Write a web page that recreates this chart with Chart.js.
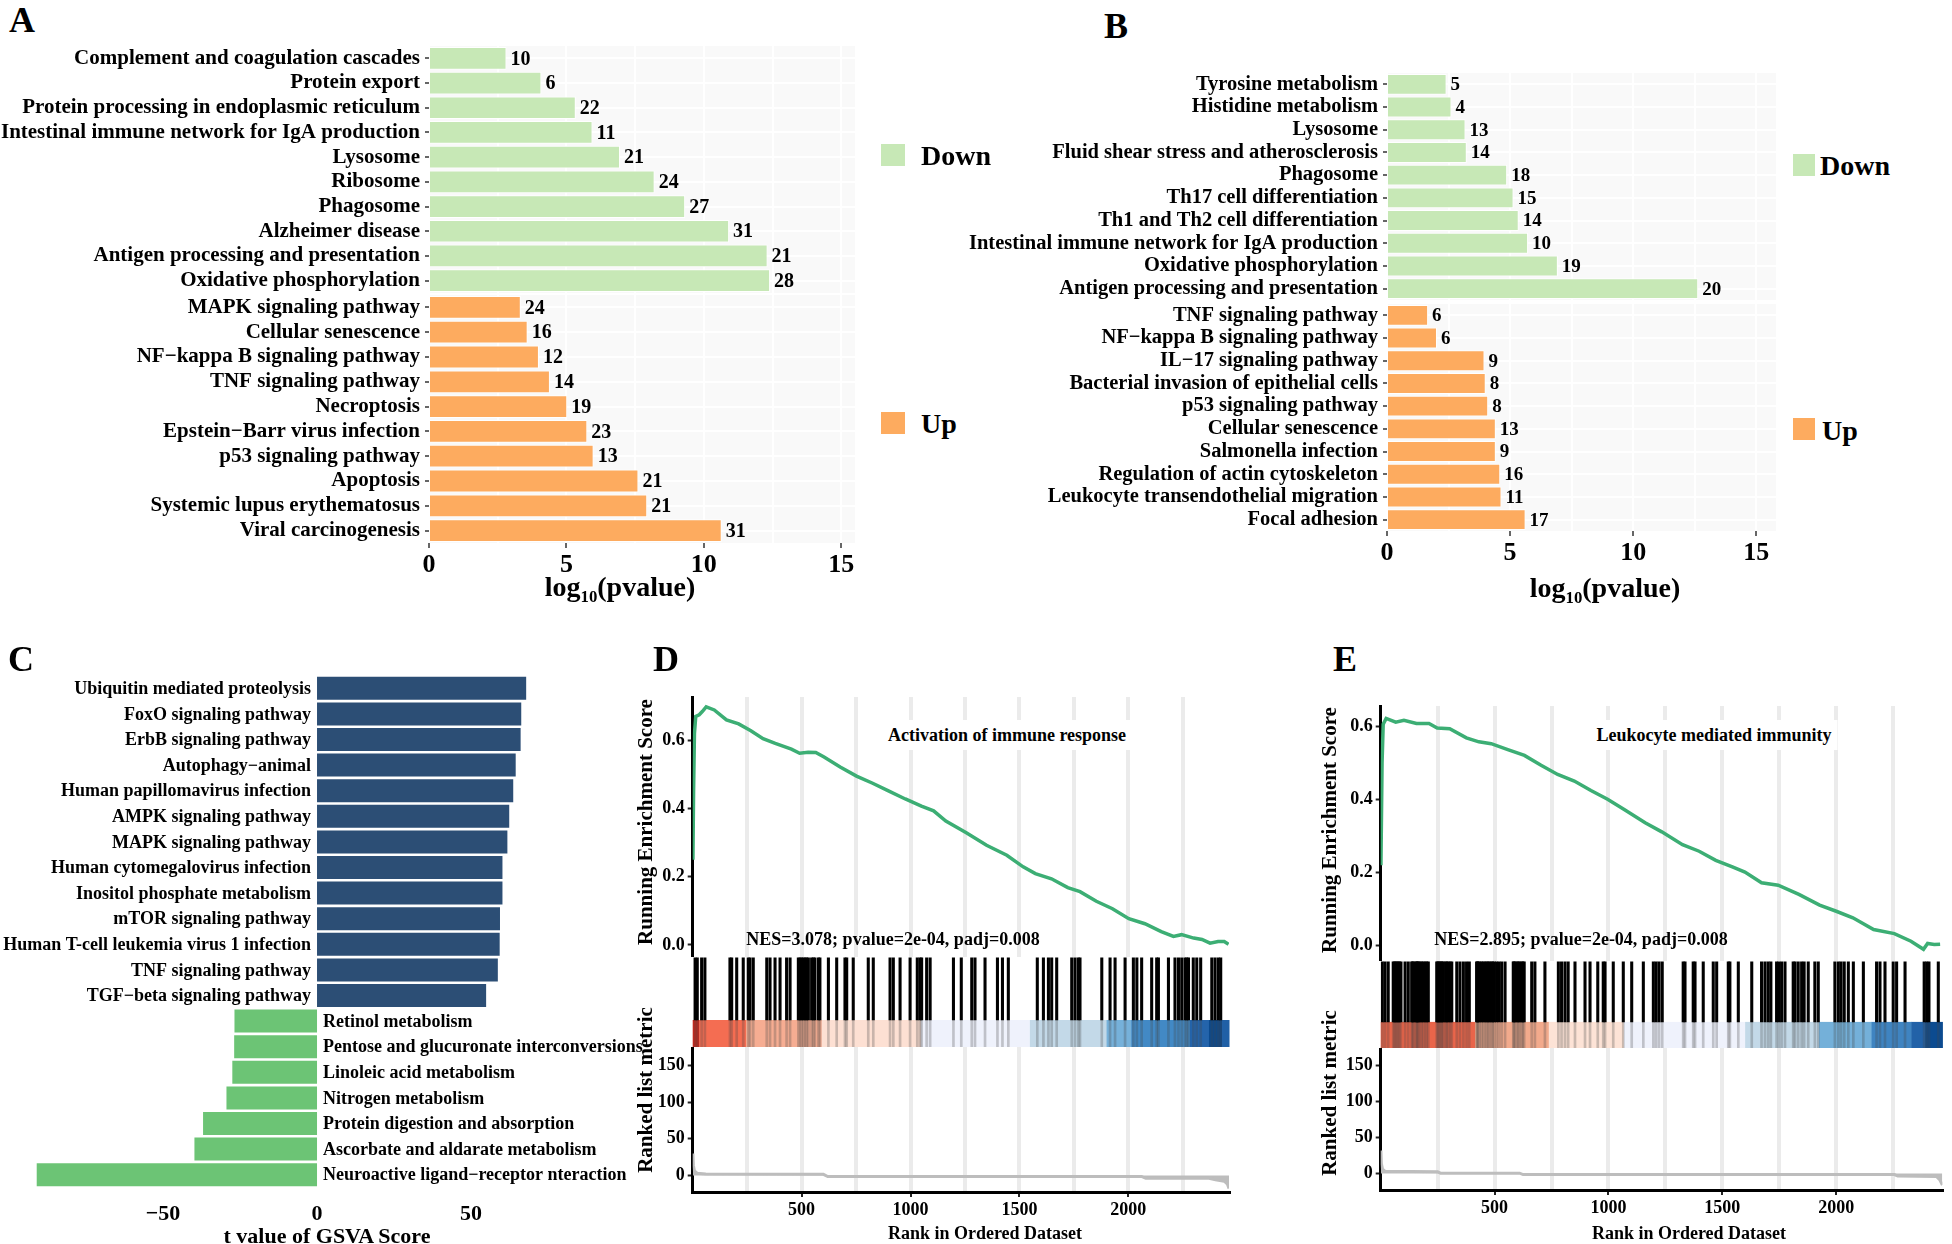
<!DOCTYPE html>
<html>
<head>
<meta charset="utf-8">
<script src="https://cdn.jsdelivr.net/npm/chart.js@4.4.1/dist/chart.umd.min.js"></script>
<style>
  html, body { margin: 0; padding: 0; background: #fff; overflow: hidden; }
  body { width: 1952px; height: 1244px; position: relative; font-family: 'Liberation Serif', 'Times New Roman', serif; font-weight: bold; color: #000; }
  .box { position: absolute; }
  .t { position: absolute; transform: translate(-50%, -50%); white-space: nowrap; line-height: 1; }
  .tl { position: absolute; transform: translateY(-50%); white-space: nowrap; line-height: 1; }
  .tr { position: absolute; transform: translate(-50%, -50%) rotate(-90deg); white-space: nowrap; line-height: 1; }
  .sq { position: absolute; }
  sub { font-size: 60%; vertical-align: -0.35em; }
</style>
</head>
<body>
<!-- panel A -->
<div class="box" style="left:0;top:46px;width:870px;height:247px"><canvas id="a-down"></canvas></div>
<div class="box" style="left:0;top:295px;width:870px;height:325px"><canvas id="a-up"></canvas></div>
<!-- panel B -->
<div class="box" style="left:960px;top:73px;width:831px;height:227px"><canvas id="b-down"></canvas></div>
<div class="box" style="left:960px;top:304px;width:831px;height:316px"><canvas id="b-up"></canvas></div>
<!-- panel C -->
<div class="box" style="left:0;top:630px;width:660px;height:630px"><canvas id="c-chart"></canvas></div>
<!-- panel D -->
<div class="box" style="left:620px;top:690px;width:620px;height:267px"><canvas id="d-es"></canvas></div>
<div class="box" style="left:620px;top:957px;width:620px;height:90px"><canvas id="d-hits"></canvas></div>
<div class="box" style="left:620px;top:1047px;width:620px;height:203px"><canvas id="d-metric"></canvas></div>
<!-- panel E -->
<div class="box" style="left:1300px;top:700px;width:652px;height:261px"><canvas id="e-es"></canvas></div>
<div class="box" style="left:1300px;top:961px;width:652px;height:87px"><canvas id="e-hits"></canvas></div>
<div class="box" style="left:1300px;top:1048px;width:652px;height:202px"><canvas id="e-metric"></canvas></div>

<!-- letters -->
<div class="t" style="left:22px;top:20px;font-size:36px">A</div>
<div class="t" style="left:1116px;top:26px;font-size:36px">B</div>
<div class="t" style="left:21px;top:659px;font-size:36px">C</div>
<div class="t" style="left:666px;top:659px;font-size:36px">D</div>
<div class="t" style="left:1345px;top:659px;font-size:36px">E</div>

<!-- legends -->
<div class="sq" style="left:881px;top:144px;width:24px;height:22px;background:#c7e8b6"></div>
<div class="tl" style="left:921px;top:156px;font-size:28px">Down</div>
<div class="sq" style="left:881px;top:412px;width:24px;height:22px;background:#fdab5f"></div>
<div class="tl" style="left:921px;top:424px;font-size:28px">Up</div>
<div class="sq" style="left:1793px;top:154px;width:22px;height:22px;background:#c7e8b6"></div>
<div class="tl" style="left:1820px;top:166px;font-size:28px">Down</div>
<div class="sq" style="left:1793px;top:418px;width:22px;height:22px;background:#fdab5f"></div>
<div class="tl" style="left:1822px;top:431px;font-size:28px">Up</div>

<!-- axis titles -->
<div class="t" style="left:620px;top:589px;font-size:28px">log<sub>10</sub>(pvalue)</div>
<div class="t" style="left:1605px;top:590px;font-size:28px">log<sub>10</sub>(pvalue)</div>
<div class="t" style="left:327px;top:1236px;font-size:22px">t value of GSVA Score</div>
<div class="tr" style="left:645px;top:822px;font-size:21px">Running Enrichment Score</div>
<div class="tr" style="left:645px;top:1090px;font-size:21px">Ranked list metric</div>
<div class="t" style="left:985px;top:1233px;font-size:18px">Rank in Ordered Dataset</div>
<div class="tr" style="left:1329px;top:830px;font-size:21px">Running Enrichment Score</div>
<div class="tr" style="left:1329px;top:1093px;font-size:21px">Ranked list metric</div>
<div class="t" style="left:1689px;top:1233px;font-size:18px">Rank in Ordered Dataset</div>

<!-- GSEA annotations -->
<div class="t" style="left:1007px;top:735px;font-size:18px;background:#fff;padding:6px 6px">Activation of immune response</div>
<div class="t" style="left:893px;top:939px;font-size:18px">NES=3.078; pvalue=2e-04, padj=0.008</div>
<div class="t" style="left:1714px;top:735px;font-size:18px;background:#fff;padding:6px 6px">Leukocyte mediated immunity</div>
<div class="t" style="left:1581px;top:939px;font-size:18px">NES=2.895; pvalue=2e-04, padj=0.008</div>

<script>
// ---- A: KEGG enrichment (log10 p), Down / Up
const aDownLabels = ['Complement and coagulation cascades', 'Protein export', 'Protein processing in endoplasmic reticulum', 'Intestinal immune network for IgA production', 'Lysosome', 'Ribosome', 'Phagosome', 'Alzheimer disease', 'Antigen processing and presentation', 'Oxidative phosphorylation'];
const aDownValues = [2.82, 4.09, 5.34, 5.95, 6.95, 8.21, 9.32, 10.92, 12.32, 12.41];
const aDownCounts = [10, 6, 22, 11, 21, 24, 27, 31, 21, 28];
const aUpLabels = ['MAPK signaling pathway', 'Cellular senescence', 'NF−kappa B signaling pathway', 'TNF signaling pathway', 'Necroptosis', 'Epstein−Barr virus infection', 'p53 signaling pathway', 'Apoptosis', 'Systemic lupus erythematosus', 'Viral carcinogenesis'];
const aUpValues = [3.34, 3.59, 4.00, 4.40, 5.03, 5.76, 5.99, 7.62, 7.94, 10.65];
const aUpCounts = [24, 16, 12, 14, 19, 23, 13, 21, 21, 31];

// ---- B
const bDownLabels = ['Tyrosine metabolism', 'Histidine metabolism', 'Lysosome', 'Fluid shear stress and atherosclerosis', 'Phagosome', 'Th17 cell differentiation', 'Th1 and Th2 cell differentiation', 'Intestinal immune network for IgA production', 'Oxidative phosphorylation', 'Antigen processing and presentation'];
const bDownValues = [2.42, 2.62, 3.19, 3.24, 4.88, 5.14, 5.35, 5.73, 6.94, 12.64];
const bDownCounts = [5, 4, 13, 14, 18, 15, 14, 10, 19, 20];
const bUpLabels = ['TNF signaling pathway', 'NF−kappa B signaling pathway', 'IL−17 signaling pathway', 'Bacterial invasion of epithelial cells', 'p53 signaling pathway', 'Cellular senescence', 'Salmonella infection', 'Regulation of actin cytoskeleton', 'Leukocyte transendothelial migration', 'Focal adhesion'];
const bUpValues = [1.67, 2.03, 3.96, 4.01, 4.11, 4.42, 4.42, 4.60, 4.65, 5.63];
const bUpCounts = [6, 6, 9, 8, 8, 13, 9, 16, 11, 17];

// ---- C: GSVA t values
const gsvaLabels = ['Ubiquitin mediated proteolysis', 'FoxO signaling pathway', 'ErbB signaling pathway', 'Autophagy−animal', 'Human papillomavirus infection', 'AMPK signaling pathway', 'MAPK signaling pathway', 'Human cytomegalovirus infection', 'Inositol phosphate metabolism', 'mTOR signaling pathway', 'Human T-cell leukemia virus 1 infection', 'TNF signaling pathway', 'TGF−beta signaling pathway', 'Retinol metabolism', 'Pentose and glucuronate interconversions', 'Linoleic acid metabolism', 'Nitrogen metabolism', 'Protein digestion and absorption', 'Ascorbate and aldarate metabolism', 'Neuroactive ligand−receptor nteraction'];
const gsvaValues = [67.9, 66.3, 66.1, 64.5, 63.7, 62.4, 61.8, 60.2, 60.2, 59.4, 59.3, 58.7, 54.9, -26.8, -26.9, -27.5, -29.4, -37.0, -39.8, -91.0];

// ---- D: GSEA activation of immune response
const esDRank = [1, 4, 8, 14, 30, 45, 62, 99, 155, 211, 267, 323, 379, 453, 491, 530, 565, 603, 677, 752, 826, 901, 976, 1050, 1106, 1162, 1256, 1349, 1442, 1517, 1573, 1647, 1722, 1778, 1853, 1927, 2002, 2076, 2151, 2207, 2244, 2300, 2338, 2375, 2412, 2440, 2460];
const esDScore = [0.25, 0.45, 0.62, 0.67, 0.675, 0.685, 0.698, 0.689, 0.660, 0.648, 0.628, 0.605, 0.591, 0.574, 0.562, 0.565, 0.564, 0.551, 0.522, 0.495, 0.474, 0.451, 0.428, 0.407, 0.393, 0.363, 0.329, 0.292, 0.263, 0.229, 0.209, 0.194, 0.168, 0.156, 0.128, 0.106, 0.077, 0.062, 0.039, 0.025, 0.030, 0.020, 0.016, 0.005, 0.010, 0.010, 0.002];
const hitsD = [11, 21, 41, 56, 171, 179, 202, 232, 255, 263, 278, 340, 355, 378, 401, 431, 447, 485, 493, 500, 508, 516, 523, 531, 546, 554, 561, 577, 584, 623, 661, 699, 707, 737, 806, 829, 906, 921, 952, 998, 1031, 1044, 1051, 1074, 1090, 1197, 1233, 1281, 1296, 1342, 1399, 1422, 1449, 1582, 1610, 1633, 1648, 1671, 1740, 1755, 1770, 1778, 1878, 1916, 1939, 1985, 2023, 2039, 2061, 2107, 2130, 2138, 2184, 2214, 2230, 2245, 2260, 2268, 2276, 2298, 2314, 2332, 2383, 2398, 2413, 2424];
const bandDStart = [0, 30, 245, 592, 1047, 1548, 1900, 2013, 2283, 2370, 2430];
const bandDColor = ['#c8281d', '#f46d52', '#f6ad92', '#fde0d3', '#eff2fc', '#c3d9e8', '#76b1da', '#4289c5', '#2464ab', '#0b4a8f', '#2060a6'];
const metricDRank = [1, 3, 8, 20, 60, 600, 620, 2060, 2080, 2370, 2400, 2440, 2455, 2462];
const metricDValue = [30, 14, 6, 3, 2, 1.5, -1.5, -1.5, -4, -4, -6, -8, -12, -18];
const rankMaxD = 2462;

// ---- E: GSEA leukocyte mediated immunity
const esERank = [1, 6, 11, 24, 66, 102, 157, 212, 248, 303, 376, 431, 485, 558, 631, 704, 777, 850, 923, 996, 1069, 1161, 1234, 1325, 1398, 1471, 1544, 1599, 1672, 1745, 1836, 1927, 2000, 2073, 2164, 2255, 2328, 2383, 2401, 2430, 2456];
const esEScore = [0.22, 0.50, 0.605, 0.621, 0.611, 0.616, 0.607, 0.607, 0.595, 0.593, 0.568, 0.557, 0.552, 0.536, 0.520, 0.493, 0.468, 0.450, 0.424, 0.400, 0.372, 0.336, 0.311, 0.276, 0.258, 0.233, 0.215, 0.201, 0.172, 0.165, 0.140, 0.111, 0.094, 0.076, 0.044, 0.033, 0.012, -0.010, 0.006, 0.003, 0.004];
const hitsE = [7, 19, 33, 55, 60, 66, 71, 77, 82, 89, 107, 121, 136, 140, 145, 154, 158, 162, 166, 173, 180, 187, 195, 202, 209, 246, 250, 255, 260, 265, 270, 275, 285, 290, 297, 305, 312, 334, 348, 363, 377, 389, 421, 425, 428, 435, 443, 450, 458, 465, 472, 478, 487, 492, 499, 509, 519, 531, 546, 582, 585, 590, 598, 604, 610, 619, 624, 630, 663, 677, 721, 780, 794, 809, 823, 853, 897, 919, 953, 977, 985, 1021, 1065, 1102, 1153, 1197, 1209, 1222, 1236, 1328, 1336, 1372, 1380, 1416, 1460, 1475, 1526, 1533, 1570, 1629, 1672, 1687, 1701, 1713, 1738, 1748, 1760, 1775, 1811, 1819, 1833, 1848, 1859, 1877, 1906, 1921, 1994, 2009, 2021, 2035, 2053, 2075, 2119, 2177, 2192, 2214, 2250, 2265, 2302, 2386, 2397, 2407, 2448];
const bandEStart = [0, 414, 738, 1067, 1600, 1924, 2155, 2330, 2390];
const bandEColor = ['#e9654a', '#f2aa8c', '#fde3d6', '#eff2fc', '#c3d9e8', '#74b0d9', '#3f84c1', '#2262a8', '#0c4b90'];
const metricERank = [1, 3, 8, 20, 250, 262, 610, 625, 2255, 2270, 2440, 2455, 2466];
const metricEValue = [32, 14, 6, 3, 2.5, 0.5, 0.5, -1.5, -1.5, -3.5, -4, -9, -16];
const rankMaxE = 2466;

const serif = "'Liberation Serif', 'Times New Roman', serif";
Chart.defaults.font.family = serif;
Chart.defaults.font.weight = 'bold';
Chart.defaults.color = '#000';
Chart.defaults.animation = false;
Chart.defaults.devicePixelRatio = 1;
Chart.defaults.plugins.legend.display = false;
Chart.defaults.plugins.tooltip.enabled = false;

const setTicks = list => scale => { scale.ticks = list.map(v => ({ value: v })); };
const gridRanks = [250, 500, 750, 1000, 1250, 1500, 1750, 2000, 2250];

// fixed axis sizes, no extra room for overhanging labels
const fixWidth = w => s => { s.width = w; s.paddingTop = 0; s.paddingBottom = 0; };
const fixHeight = h => s => { s.height = h; s.paddingLeft = 0; s.paddingRight = 0; };

// light panel background (ggplot style)
function panelBg(color) {
    return {
        id: 'panelBg',
        beforeDraw(chart) {
            const { ctx, chartArea: a } = chart;
            ctx.save();
            ctx.fillStyle = color;
            ctx.fillRect(a.left, a.top, a.right - a.left, a.bottom - a.top);
            ctx.restore();
        }
    };
}

// gene counts at the end of each bar
function countLabels(counts, size) {
    return {
        id: 'countLabels',
        afterDatasetsDraw(chart) {
            const ctx = chart.ctx;
            ctx.save();
            ctx.font = `bold ${size}px ${serif}`;
            ctx.fillStyle = '#000';
            ctx.textAlign = 'left';
            ctx.textBaseline = 'middle';
            chart.getDatasetMeta(0).data.forEach((bar, i) => ctx.fillText(counts[i], bar.x + 4, bar.y + 1));
            ctx.restore();
        }
    };
}

function enrichChart(id, labels, values, counts, color, o) {
    return new Chart(document.getElementById(id), {
        type: 'bar',
        data: {
            labels: labels,
            datasets: [{ data: values, backgroundColor: color, borderColor: '#fff', borderWidth: 1, barPercentage: 0.92, categoryPercentage: 1 }]
        },
        options: {
            indexAxis: 'y', responsive: true, maintainAspectRatio: false,
            layout: { padding: { left: 0, right: o.padRight, top: 0, bottom: 0 } },
            scales: {
                x: {
                    type: 'linear', min: 0, max: o.xMax,
                    afterBuildTicks: setTicks([0, 2.5, 5, 7.5, 10, 12.5, 15]),
                    grid: {
                        color: '#fff', lineWidth: 2, drawTicks: o.showX, tickLength: 5, tickWidth: 1.5,
                        tickColor: c => (c.tick && c.tick.value % 5 === 0) ? '#333' : 'rgba(0,0,0,0)'
                    },
                    border: { display: false },
                    ticks: { display: o.showX, font: { size: 26 }, padding: 2, callback: v => v % 5 === 0 ? v : '' },
                    afterFit: fixHeight(o.xHeight)
                },
                y: {
                    grid: { color: '#fff', lineWidth: 2, offset: false, tickLength: 4, tickWidth: 1.5, tickColor: '#333' },
                    border: { display: false },
                    ticks: { font: { size: o.labelSize }, padding: 5, autoSkip: false },
                    afterFit: fixWidth(o.yWidth)
                }
            }
        },
        plugins: [panelBg('#f9f9f9'), countLabels(counts, o.countSize)]
    });
}

enrichChart('a-down', aDownLabels, aDownValues, aDownCounts, '#c7e8b6', { xMax: 15.5, padRight: 15, yWidth: 429, showX: false, xHeight: 0, labelSize: 21, countSize: 20 });
enrichChart('a-up', aUpLabels, aUpValues, aUpCounts, '#fdab5f', { xMax: 15.5, padRight: 15, yWidth: 429, showX: true, xHeight: 77, labelSize: 21, countSize: 20 });
enrichChart('b-down', bDownLabels, bDownValues, bDownCounts, '#c7e8b6', { xMax: 15.8, padRight: 15, yWidth: 427, showX: false, xHeight: 0, labelSize: 20.5, countSize: 19 });
enrichChart('b-up', bUpLabels, bUpValues, bUpCounts, '#fdab5f', { xMax: 15.8, padRight: 15, yWidth: 427, showX: true, xHeight: 89, labelSize: 20.5, countSize: 19 });

// ---- C: labels sit next to the zero line
const gsvaNames = {
    id: 'gsvaNames',
    afterDatasetsDraw(chart) {
        const { ctx, scales: { x } } = chart;
        const zero = x.getPixelForValue(0);
        ctx.save();
        ctx.font = `bold 18px ${serif}`;
        ctx.fillStyle = '#000';
        ctx.textBaseline = 'middle';
        chart.getDatasetMeta(0).data.forEach((bar, i) => {
            const pos = gsvaValues[i] > 0;
            ctx.textAlign = pos ? 'right' : 'left';
            ctx.fillText(gsvaLabels[i], pos ? zero - 6 : zero + 6, bar.y + 1);
        });
        ctx.restore();
    }
};

new Chart(document.getElementById('c-chart'), {
    type: 'bar',
    data: {
        labels: gsvaLabels,
        datasets: [{ data: gsvaValues, backgroundColor: gsvaValues.map(v => v > 0 ? '#2c4e75' : '#6cc475'), barPercentage: 0.9, categoryPercentage: 1 }]
    },
    options: {
        indexAxis: 'y', responsive: true, maintainAspectRatio: false,
        layout: { padding: { left: 24.4, right: 121.2, top: 45.5, bottom: 0 } },
        scales: {
            x: {
                type: 'linear', min: -95, max: 72,
                afterBuildTicks: setTicks([-50, 0, 50]),
                grid: { display: false }, border: { display: false },
                ticks: { font: { size: 22 }, padding: 6, callback: v => String(v).replace('-', '−') },
                afterFit: fixHeight(72.5)
            },
            y: { display: false }
        }
    },
    plugins: [gsvaNames]
});

// ---- D / E: GSEA plots
function colorBand(starts, colors, rankMax) {
    return {
        id: 'colorBand',
        beforeDatasetsDraw(chart) {
            const { ctx, scales: { x, y } } = chart;
            const yTop = y.getPixelForValue(0.3), yBot = y.getPixelForValue(0);
            ctx.save();
            starts.forEach((s, i) => {
                const x0 = x.getPixelForValue(s);
                const x1 = x.getPixelForValue(i + 1 < starts.length ? starts[i + 1] : rankMax);
                ctx.fillStyle = colors[i];
                ctx.fillRect(x0, yTop, x1 - x0 + 0.5, yBot - yTop);
            });
            ctx.restore();
        }
    };
}

function gseaPanel(p, g) {
    const gridColor = '#ebebeb';
    new Chart(document.getElementById(p + '-es'), {
        type: 'line',
        data: { datasets: [{ data: g.esRank.map((r, i) => ({ x: r, y: g.esScore[i] })), borderColor: '#3cae74', borderWidth: 3.5, pointRadius: 0, tension: 0 }] },
        options: {
            responsive: true, maintainAspectRatio: false,
            layout: { padding: { top: g.padTop, right: g.padRight, left: 0, bottom: 0 } },
            scales: {
                x: {
                    type: 'linear', min: 0, max: g.rankMax,
                    afterBuildTicks: setTicks(gridRanks),
                    grid: { color: gridColor, lineWidth: 4, drawTicks: false },
                    ticks: { display: false }, border: { display: false },
                    afterFit: fixHeight(0)
                },
                y: {
                    min: g.esMin, max: g.esMax,
                    afterBuildTicks: setTicks([0, 0.2, 0.4, 0.6]),
                    grid: { drawOnChartArea: false, tickLength: 5, tickWidth: 2, tickColor: '#222' },
                    border: { color: '#000', width: 3 },
                    ticks: { font: { size: 18 }, padding: 3, callback: v => v.toFixed(1) },
                    afterFit: fixWidth(g.yWidth)
                }
            }
        }
    });

    new Chart(document.getElementById(p + '-hits'), {
        type: 'bar',
        data: {
            datasets: [
                { data: g.hits.map(r => ({ x: r, y: [0.3, 0.99] })), backgroundColor: '#000', barThickness: 2.4, grouped: false },
                { data: g.hits.map(r => ({ x: r, y: [0, 0.3] })), backgroundColor: 'rgba(70,70,70,0.28)', barThickness: 2, grouped: false }
            ]
        },
        options: {
            responsive: true, maintainAspectRatio: false,
            layout: { padding: { left: g.yWidth, right: g.padRight, top: 0, bottom: 0 } },
            scales: {
                x: { type: 'linear', min: 0, max: g.rankMax, offset: false, display: false },
                y: { min: 0, max: 1, display: false }
            }
        },
        plugins: [colorBand(g.bandStart, g.bandColor, g.rankMax)]
    });

    new Chart(document.getElementById(p + '-metric'), {
        type: 'line',
        data: { datasets: [{ data: g.metricRank.map((r, i) => ({ x: r, y: g.metricValue[i] })), borderColor: '#bdbdbd', backgroundColor: '#bdbdbd', borderWidth: 3, pointRadius: 0, fill: 'origin', tension: 0 }] },
        options: {
            responsive: true, maintainAspectRatio: false,
            layout: { padding: { right: g.padRight, left: 0, top: 0, bottom: 0 } },
            scales: {
                x: {
                    type: 'linear', min: 0, max: g.rankMax,
                    afterBuildTicks: setTicks(gridRanks),
                    grid: {
                        color: gridColor, lineWidth: 4, tickLength: 5, tickWidth: 2,
                        tickColor: c => (c.tick && c.tick.value % 500 === 0) ? '#222' : 'rgba(0,0,0,0)'
                    },
                    border: { color: '#000', width: 3 },
                    ticks: { font: { size: 18 }, padding: 3, callback: v => v % 500 === 0 ? v : '' },
                    afterFit: fixHeight(g.xHeight)
                },
                y: {
                    min: g.metMin, max: g.metMax,
                    afterBuildTicks: setTicks([0, 50, 100, 150]),
                    grid: { drawOnChartArea: false, tickLength: 5, tickWidth: 2, tickColor: '#222' },
                    border: { color: '#000', width: 3 },
                    ticks: { font: { size: 18 }, padding: 3 },
                    afterFit: fixWidth(g.yWidth)
                }
            }
        }
    });
}

gseaPanel('d', {
    esRank: esDRank, esScore: esDScore, hits: hitsD, bandStart: bandDStart, bandColor: bandDColor,
    metricRank: metricDRank, metricValue: metricDValue, rankMax: rankMaxD,
    esMin: -0.0355, esMax: 0.727, metMin: -22.7, metMax: 175.5,
    yWidth: 72.7, padRight: 11, padTop: 7, xHeight: 58
});
gseaPanel('e', {
    esRank: esERank, esScore: esEScore, hits: hitsE, bandStart: bandEStart, bandColor: bandEColor,
    metricRank: metricERank, metricValue: metricEValue, rankMax: rankMaxE,
    esMin: -0.042, esMax: 0.655, metMin: -22.9, metMax: 174.3,
    yWidth: 80.7, padRight: 9.6, padTop: 6, xHeight: 60
});
</script>
</body>
</html>
